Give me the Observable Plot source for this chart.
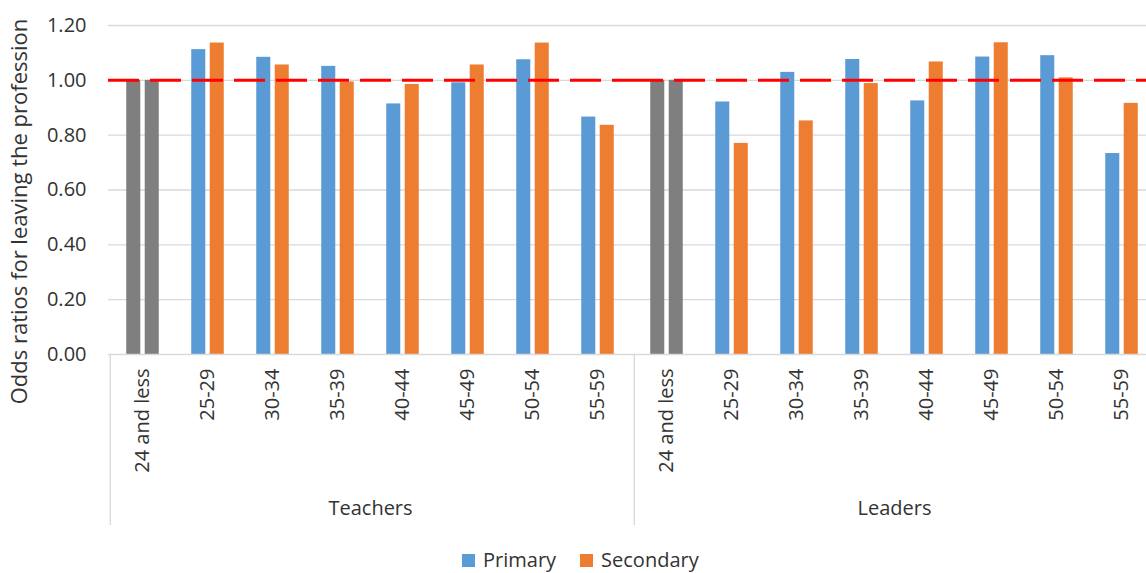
<!DOCTYPE html>
<html><head><meta charset="utf-8">
<script src="https://cdn.jsdelivr.net/npm/d3@7"></script>
<script src="https://cdn.jsdelivr.net/npm/@observablehq/plot@0.6"></script>
<style>
html,body{margin:0;padding:0;background:#fff;overflow:hidden;width:1146px;height:573px}
#chart{position:relative;width:1146px;height:573px;overflow:hidden;font-family:"Open Sans",sans-serif;color:#333}
#chart svg{max-width:none !important}
#legend{position:absolute;left:462px;top:548px;height:24px;display:flex;align-items:center;font-size:20px;line-height:24px;color:#333}
.sw{display:inline-block;width:13px;height:13px;margin-right:8px}
.item{display:flex;align-items:center;margin-right:24px;height:24px}
</style></head><body><div id="chart"></div>
<script>
const categories = ["24 and less","25-29","30-34","35-39","40-44","45-49","50-54","55-59"];
const groups = ["Teachers","Leaders"];
const series = ["Primary","Secondary"];
const teachersPrimary   = [1.00, 1.112, 1.084, 1.051, 0.914, 0.991, 1.075, 0.866];
const teachersSecondary = [1.00, 1.136, 1.056, 0.994, 0.985, 1.056, 1.136, 0.836];
const leadersPrimary    = [1.00, 0.921, 1.029, 1.076, 0.925, 1.085, 1.090, 0.733];
const leadersSecondary  = [1.00, 0.770, 0.852, 0.988, 1.067, 1.137, 1.009, 0.916];
const yTicks = [0, 0.2, 0.4, 0.6, 0.8, 1.0, 1.2];
const yLabel = "Odds ratios for leaving the profession";
const referenceCategory = "24 and less";
const referenceValue = 1;
const seriesColors = ["#5B9BD5", "#ED7D31"];
const referenceColor = "#7F7F7F";

const values = {
  Teachers: {Primary: teachersPrimary, Secondary: teachersSecondary},
  Leaders: {Primary: leadersPrimary, Secondary: leadersSecondary}
};
const data = groups.flatMap(g => series.flatMap(s => categories.map((c, i) => ({
  group: g, series: s, age: c, value: values[g][s][i],
  key: c === referenceCategory ? "Reference" : s
}))));

const W = 1160, H = 540, ML = 108, MR = 4, MT = 25, baseY = 354, MB = H - baseY;
const step = (W - ML - MR) / (groups.length * categories.length);
const barW = 0.222 * step, gap = 0.06 * step, side = (step - 2 * barW - gap) / 2;

const sepLeft = groups.map(g => ({group: g, age: categories[0]}));
const sepRight = [{group: groups[groups.length - 1], age: categories[categories.length - 1]}];
const sepOpts = {fx: "group", x: "age", stroke: "#d9d9d9", strokeWidth: 1.3, insetTop: baseY - MT, insetBottom: -171};

const svg = Plot.plot({
  width: W, height: H, marginLeft: ML, marginRight: MR, marginTop: MT, marginBottom: MB,
  style: {fontFamily: "Open Sans, sans-serif", color: "#333", background: "#fff", maxWidth: "none"},
  fx: {domain: groups, padding: 0, label: null},
  x: {domain: categories, padding: 0, label: null},
  y: {domain: [0, 1.2], label: null},
  color: {domain: [...series, "Reference"], range: [...seriesColors, referenceColor]},
  marks: [
    Plot.ruleY(yTicks.slice(1), {stroke: "#d9d9d9", strokeWidth: 1.3}),
    Plot.axisY(yTicks, {tickFormat: d3.format(".2f"), tickSize: 0, tickPadding: 22, fontSize: 20, label: null}),
    Plot.axisX({tickRotate: -90, tickSize: 0, tickPadding: 14, fontSize: 20, label: null}),
    Plot.axisFx({anchor: "bottom", tickSize: 0, tickPadding: 146, fontSize: 20, label: null}),
    Plot.barY(data.filter(d => d.series === series[0]), {fx: "group", x: "age", y: "value", fill: "key", insetLeft: side, insetRight: side + barW + gap}),
    Plot.barY(data.filter(d => d.series === series[1]), {fx: "group", x: "age", y: "value", fill: "key", insetLeft: side + barW + gap, insetRight: side}),
    Plot.ruleY([0], {stroke: "#d9d9d9", strokeWidth: 1.5}),
    Plot.ruleY([referenceValue], {stroke: "#ff0000", strokeWidth: 3, strokeDasharray: "31,11"}),
    Plot.ruleX(sepLeft, {...sepOpts, dx: -step / 2}),
    Plot.ruleX(sepRight, {...sepOpts, dx: step / 2})
  ]
});
const root = svg.tagName.toLowerCase() === "svg" ? svg : svg.querySelector("svg");
root.style.maxWidth = "none";
root.setAttribute("width", W);
root.setAttribute("height", H);
d3.select(root).append("text")
  .attr("transform", "translate(27,211.5) rotate(-90)")
  .attr("text-anchor", "middle")
  .attr("font-size", 22)
  .attr("fill", "#333")
  .text(yLabel);
const chart = document.getElementById("chart");
chart.appendChild(svg);

const legend = document.createElement("div");
legend.id = "legend";
series.forEach((s, i) => {
  const item = document.createElement("span");
  item.className = "item";
  const sw = document.createElement("span");
  sw.className = "sw";
  sw.style.background = seriesColors[i];
  item.appendChild(sw);
  item.appendChild(document.createTextNode(s));
  legend.appendChild(item);
});
chart.appendChild(legend);
</script></body></html>
